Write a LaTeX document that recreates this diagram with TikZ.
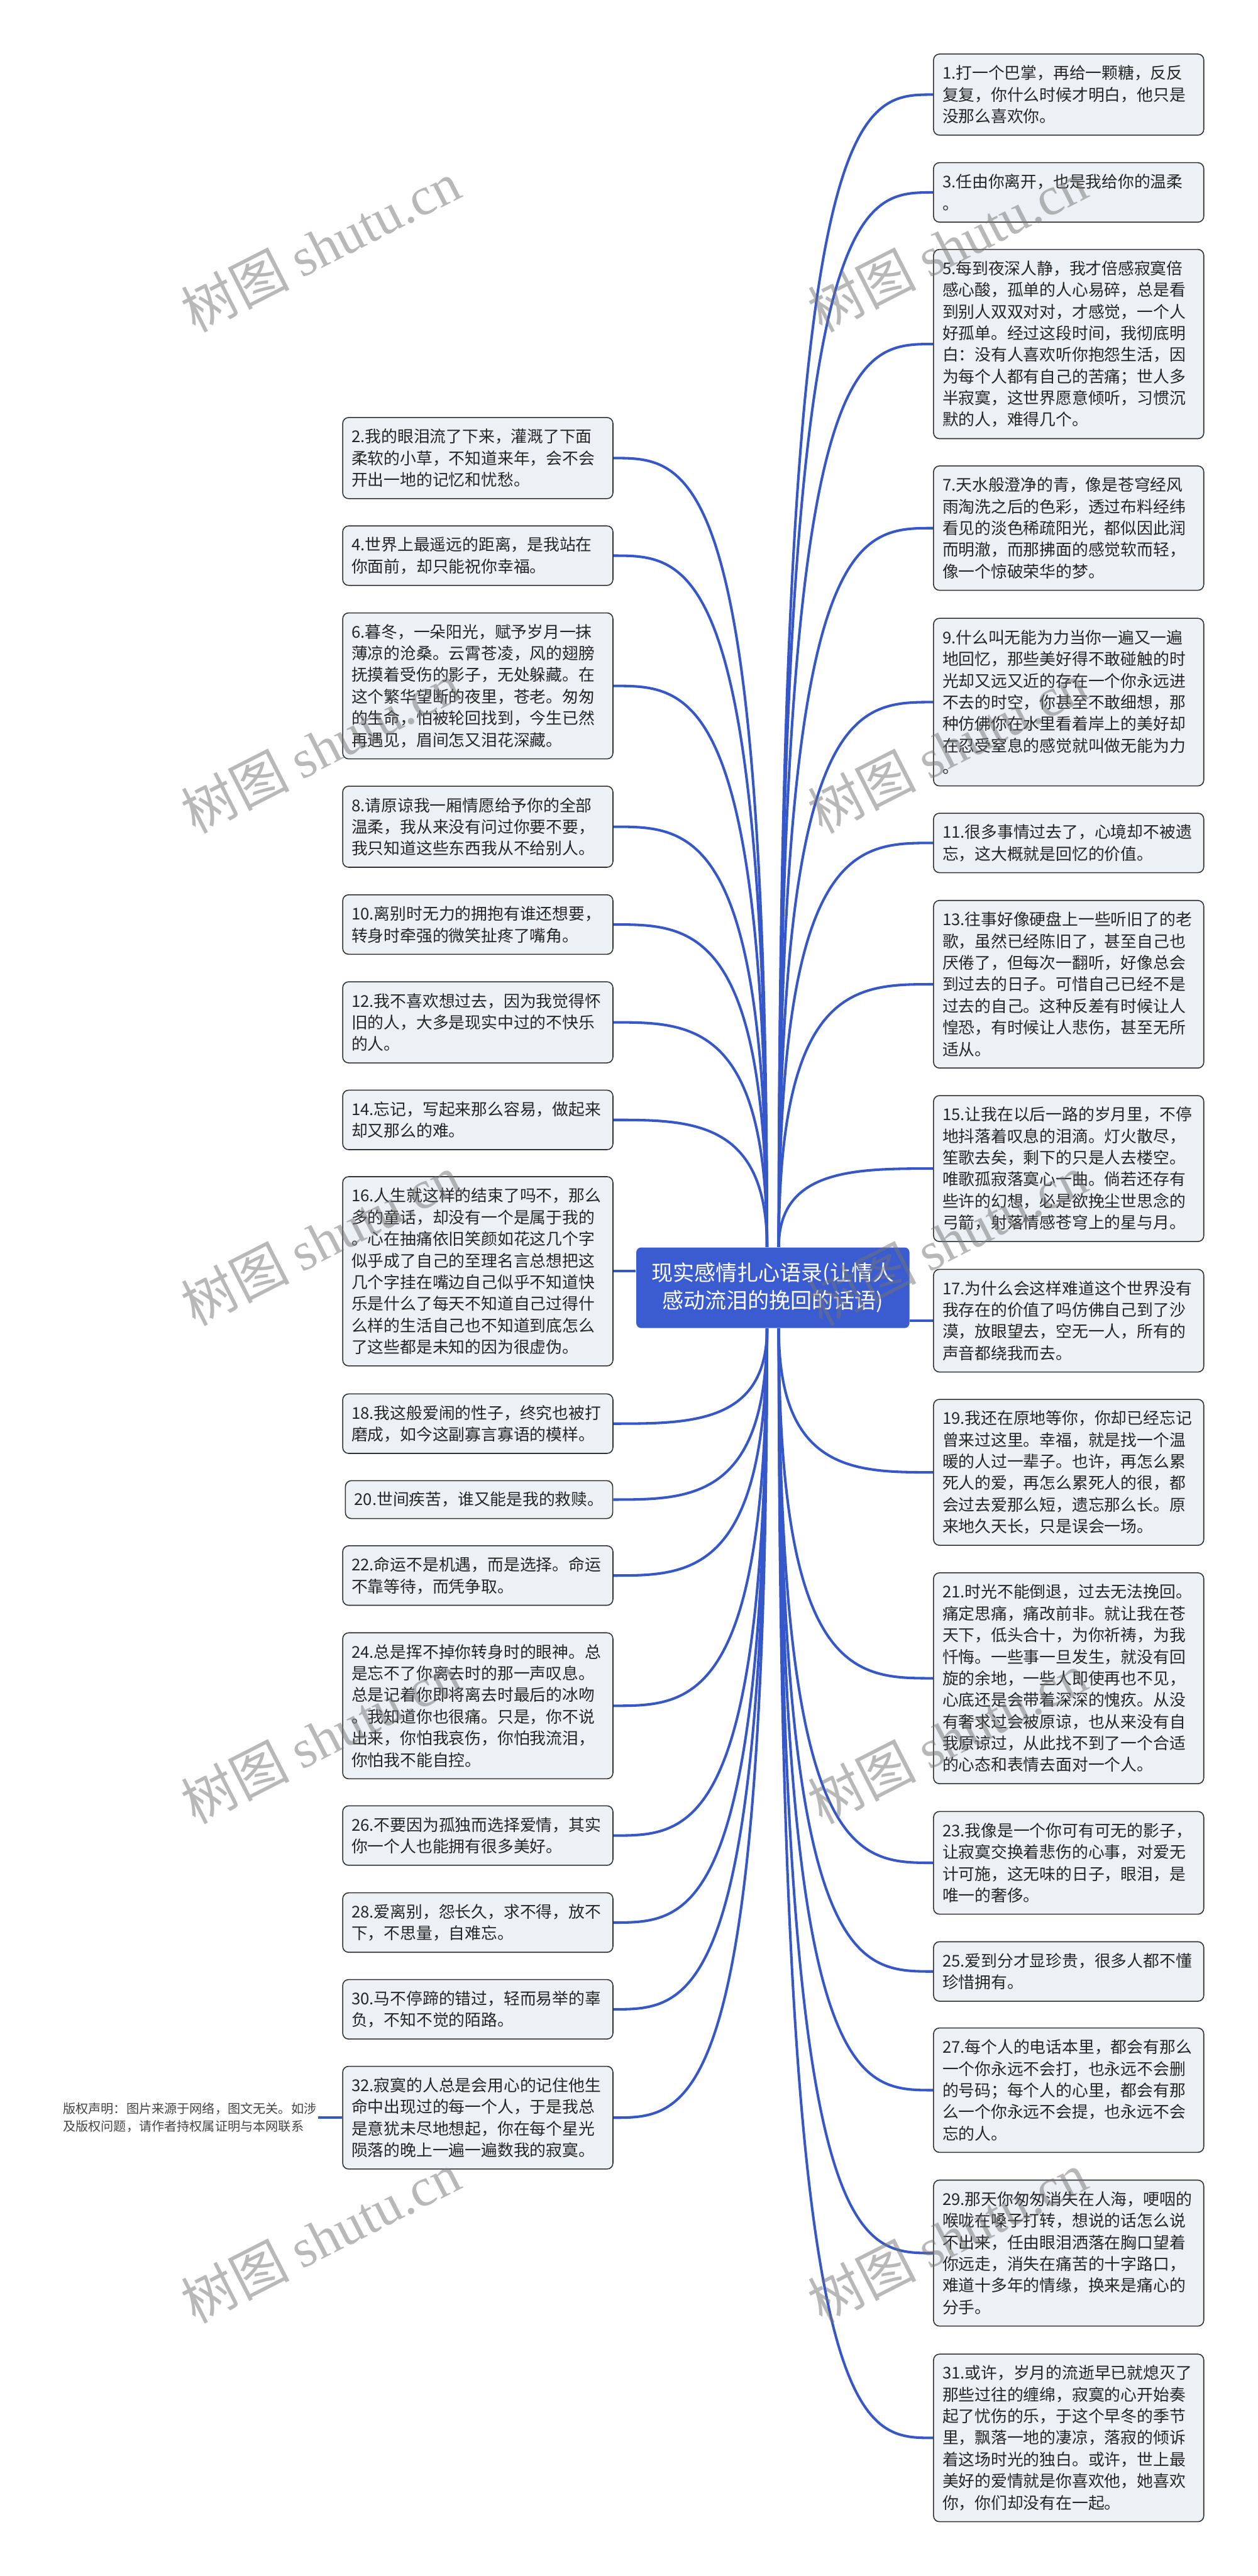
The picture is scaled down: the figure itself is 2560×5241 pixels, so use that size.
\documentclass[tikz,border=0pt]{standalone}
\usepackage{fontspec}
\setmainfont{Noto Sans CJK SC}
\newfontfamily\wmlatin{Liberation Serif}
\usetikzlibrary{calc}
\definecolor{conncol}{HTML}{3557C9}
\definecolor{centerfill}{HTML}{3A5CD0}
\definecolor{boxfill}{HTML}{EDF0F5}
\definecolor{boxborder}{HTML}{303030}
\definecolor{textcol}{HTML}{262626}
\definecolor{crcol}{HTML}{444444}
\tikzset{
  conn/.style={draw=conncol, line width=1.3pt},
  tbox/.style={draw=boxborder, line width=0.5pt, fill=boxfill, rounded corners=3pt,
    text=textcol, font=\fontsize{8.25pt}{11pt}\selectfont, align=left,
    text width=128.5pt, inner xsep=4.5pt, inner ysep=0pt, anchor=center},
  ln1/.style={minimum height=19.25pt},
  ln2/.style={minimum height=30.25pt},
  ln3/.style={minimum height=41.25pt},
  ln4/.style={minimum height=52.25pt},
  ln5/.style={minimum height=63.25pt},
  ln6/.style={minimum height=74.25pt},
  ln7/.style={minimum height=85.25pt},
  ln8/.style={minimum height=96.25pt},
  ln9/.style={minimum height=107.25pt},
  centernode/.style={fill=centerfill, draw=none, rounded corners=2.5pt, text=white,
    font=\fontsize{10.9pt}{14pt}\selectfont, align=center, minimum width=139pt,
    minimum height=41pt, inner sep=0pt},
  crnote/.style={text=crcol, font=\fontsize{6.45pt}{9pt}\selectfont, align=left, inner sep=0.5pt},
  wm/.style={text=black!55, text opacity=0.5, font=\fontsize{27.5pt}{30pt}\selectfont, rotate=27, inner sep=0pt}
}
\newcommand\lnk[2]{\draw[conn] (#1) .. controls (#1 |- #2) and ($(#1 |- #2)!0.5!(#2)$) .. (#2);}
\begin{document}
\begin{tikzpicture}[x=0.25pt,y=-0.25pt]
\fill[white] (0,0) rectangle (2560,5241);
\useasboundingbox (0,0) rectangle (2560,5241);

% center
\node[centernode] (c) at (1573,2620) {现实感情扎心语录(让情人\\感动流泪的挽回的话语)};
\coordinate (cTR) at ([xshift=3pt]c.north);
\coordinate (cTL) at ([xshift=-3pt]c.north);
\coordinate (cBR) at ([xshift=3pt]c.south);
\coordinate (cBL) at ([xshift=-3pt]c.south);

% right column
\node[tbox,ln3] (b1) at (2175,192.5) {1.打一个巴掌，再给一颗糖，反反\\复复，你什么时候才明白，他只是\\没那么喜欢你。};
\node[tbox,ln2] (b3) at (2175,391.5) {3.任由你离开，也是我给你的温柔\\。};
\node[tbox,ln8] (b5) at (2175,700) {5.每到夜深人静，我才倍感寂寞倍\\感心酸，孤单的人心易碎，总是看\\到别人双双对对，才感觉，一个人\\好孤单。经过这段时间，我彻底明\\白：没有人喜欢听你抱怨生活，因\\为每个人都有自己的苦痛；世人多\\半寂寞，这世界愿意倾听，习惯沉\\默的人，难得几个。};
\node[tbox,ln5] (b7) at (2175,1074.5) {7.天水般澄净的青，像是苍穹经风\\雨淘洗之后的色彩，透过布料经纬\\看见的淡色稀疏阳光，都似因此润\\而明澈，而那拂面的感觉软而轻，\\像一个惊破荣华的梦。};
\node[tbox,ln7] (b9) at (2175,1428.5) {9.什么叫无能为力当你一遍又一遍\\地回忆，那些美好得不敢碰触的时\\光却又远又近的存在一个你永远进\\不去的时空，你甚至不敢细想，那\\种仿佛你在水里看着岸上的美好却\\在忍受窒息的感觉就叫做无能为力\\。};
\node[tbox,ln2] (b11) at (2175,1715) {11.很多事情过去了，心境却不被遗\\忘，这大概就是回忆的价值。};
\node[tbox,ln7] (b13) at (2175,2002.5) {13.往事好像硬盘上一些听旧了的老\\歌，虽然已经陈旧了，甚至自己也\\厌倦了，但每次一翻听，好像总会\\到过去的日子。可惜自己已经不是\\过去的自己。这种反差有时候让人\\惶恐，有时候让人悲伤，甚至无所\\适从。};
\node[tbox,ln6] (b15) at (2175,2377.5) {15.让我在以后一路的岁月里，不停\\地抖落着叹息的泪滴。灯火散尽，\\笙歌去矣，剩下的只是人去楼空。\\唯歌孤寂落寞心一曲。倘若还存有\\些许的幻想，必是欲挽尘世思念的\\弓箭，射落情感苍穹上的星与月。};
\node[tbox,ln4] (b17) at (2175,2687) {17.为什么会这样难道这个世界没有\\我存在的价值了吗仿佛自己到了沙\\漠，放眼望去，空无一人，所有的\\声音都绕我而去。};
\node[tbox,ln6] (b19) at (2175,2995.5) {19.我还在原地等你，你却已经忘记\\曾来过这里。幸福，就是找一个温\\暖的人过一辈子。也许，再怎么累\\死人的爱，再怎么累死人的很，都\\会过去爱那么短，遗忘那么长。原\\来地久天长，只是误会一场。};
\node[tbox,ln9] (b21) at (2175,3414.5) {21.时光不能倒退，过去无法挽回。\\痛定思痛，痛改前非。就让我在苍\\天下，低头合十，为你祈祷，为我\\忏悔。一些事一旦发生，就没有回\\旋的余地，一些人即使再也不见，\\心底还是会带着深深的愧疚。从没\\有奢求过会被原谅，也从来没有自\\我原谅过，从此找不到了一个合适\\的心态和表情去面对一个人。};
\node[tbox,ln4] (b23) at (2175,3790) {23.我像是一个你可有可无的影子，\\让寂寞交换着悲伤的心事，对爱无\\计可施，这无味的日子，眼泪，是\\唯一的奢侈。};
\node[tbox,ln2] (b25) at (2175,4011) {25.爱到分才显珍贵，很多人都不懂\\珍惜拥有。};
\node[tbox,ln5] (b27) at (2175,4252.5) {27.每个人的电话本里，都会有那么\\一个你永远不会打，也永远不会删\\的号码；每个人的心里，都会有那\\么一个你永远不会提，也永远不会\\忘的人。};
\node[tbox,ln6] (b29) at (2175,4584) {29.那天你匆匆消失在人海，哽咽的\\喉咙在嗓子打转，想说的话怎么说\\不出来，任由眼泪洒落在胸口望着\\你远走，消失在痛苦的十字路口，\\难道十多年的情缘，换来是痛心的\\分手。};
\node[tbox,ln7] (b31) at (2175,4960) {31.或许，岁月的流逝早已就熄灭了\\那些过往的缠绵，寂寞的心开始奏\\起了忧伤的乐，于这个早冬的季节\\里，飘落一地的凄凉，落寂的倾诉\\着这场时光的独白。或许，世上最\\美好的爱情就是你喜欢他，她喜欢\\你，你们却没有在一起。};

% left column
\node[tbox,ln3] (b2) at (972.5,932) {2.我的眼泪流了下来，灌溉了下面\\柔软的小草，不知道来年，会不会\\开出一地的记忆和忧愁。};
\node[tbox,ln2] (b4) at (972.5,1130.5) {4.世界上最遥远的距离，是我站在\\你面前，却只能祝你幸福。};
\node[tbox,ln6] (b6) at (972.5,1395.5) {6.暮冬，一朵阳光，赋予岁月一抹\\薄凉的沧桑。云霄苍凌，风的翅膀\\抚摸着受伤的影子，无处躲藏。在\\这个繁华望断的夜里，苍老。匆匆\\的生命，怕被轮回找到，今生已然\\再遇见，眉间怎又泪花深藏。};
\node[tbox,ln3] (b8) at (972.5,1682) {8.请原谅我一厢情愿给予你的全部\\温柔，我从来没有问过你要不要，\\我只知道这些东西我从不给别人。};
\node[tbox,ln2] (b10) at (972.5,1881) {10.离别时无力的拥抱有谁还想要，\\转身时牵强的微笑扯疼了嘴角。};
\node[tbox,ln3] (b12) at (972.5,2080) {12.我不喜欢想过去，因为我觉得怀\\旧的人，大多是现实中过的不快乐\\的人。};
\node[tbox,ln2] (b14) at (972.5,2278.5) {14.忘记，写起来那么容易，做起来\\却又那么的难。};
\node[tbox,ln8] (b16) at (972.5,2586.5) {16.人生就这样的结束了吗不，那么\\多的童话，却没有一个是属于我的\\。心在抽痛依旧笑颜如花这几个字\\似乎成了自己的至理名言总想把这\\几个字挂在嘴边自己似乎不知道快\\乐是什么了每天不知道自己过得什\\么样的生活自己也不知道到底怎么\\了这些都是未知的因为很虚伪。};
\node[tbox,ln2] (b18) at (972.5,2896.5) {18.我这般爱闹的性子，终究也被打\\磨成，如今这副寡言寡语的模样。};
\node[tbox,ln1,text width=127pt] (b20) at (975,3051) {20.世间疾苦，谁又能是我的救赎。};
\node[tbox,ln2] (b22) at (972.5,3205.5) {22.命运不是机遇，而是选择。命运\\不靠等待，而凭争取。};
\node[tbox,ln6] (b24) at (972.5,3470.5) {24.总是挥不掉你转身时的眼神。总\\是忘不了你离去时的那一声叹息。\\总是记着你即将离去时最后的冰吻\\。我知道你也很痛。只是，你不说\\出来，你怕我哀伤，你怕我流泪，\\你怕我不能自控。};
\node[tbox,ln2] (b26) at (972.5,3734.5) {26.不要因为孤独而选择爱情，其实\\你一个人也能拥有很多美好。};
\node[tbox,ln2] (b28) at (972.5,3911.5) {28.爱离别，怨长久，求不得，放不\\下，不思量，自难忘。};
\node[tbox,ln2] (b30) at (972.5,4088) {30.马不停蹄的错过，轻而易举的辜\\负，不知不觉的陌路。};
\node[tbox,ln4] (b32) at (972.5,4308.5) {32.寂寞的人总是会用心的记住他生\\命中出现过的每一个人，于是我总\\是意犹未尽地想起，你在每个星光\\陨落的晚上一遍一遍数我的寂寞。};

% copyright note
\node[crnote, anchor=east] (cr) at (647,4308.5) {版权声明：图片来源于网络，图文无关。如涉\\及版权问题，请作者持权属证明与本网联系};

% connectors
\lnk{cTR}{b1.west}
\lnk{cTR}{b3.west}
\lnk{cTR}{b5.west}
\lnk{cTR}{b7.west}
\lnk{cTR}{b9.west}
\lnk{cTR}{b11.west}
\lnk{cTR}{b13.west}
\lnk{cTR}{b15.west}
\draw[conn] (c.east |- b17.west) -- (b17.west);
\lnk{cBR}{b19.west}
\lnk{cBR}{b21.west}
\lnk{cBR}{b23.west}
\lnk{cBR}{b25.west}
\lnk{cBR}{b27.west}
\lnk{cBR}{b29.west}
\lnk{cBR}{b31.west}
\lnk{cTL}{b2.east}
\lnk{cTL}{b4.east}
\lnk{cTL}{b6.east}
\lnk{cTL}{b8.east}
\lnk{cTL}{b10.east}
\lnk{cTL}{b12.east}
\lnk{cTL}{b14.east}
\draw[conn] (b16.east) -- (c.west |- b16.east);
\lnk{cBL}{b18.east}
\lnk{cBL}{b20.east}
\lnk{cBL}{b22.east}
\lnk{cBL}{b24.east}
\lnk{cBL}{b26.east}
\lnk{cBL}{b28.east}
\lnk{cBL}{b30.east}
\lnk{cBL}{b32.east}
\draw[conn] (cr.east) -- (b32.west);

% watermarks
\foreach \wx/\wy [count=\i] in {652/501, 1928/501, 652/1521, 1928/1521, 652/2523, 1928/2523, 652/3536, 1928/3536, 652/4552, 1928/4552}
  \node[wm] (wm\i) at (\wx,\wy) {树图 {\wmlatin shutu.cn}};
\end{tikzpicture}
\end{document}
